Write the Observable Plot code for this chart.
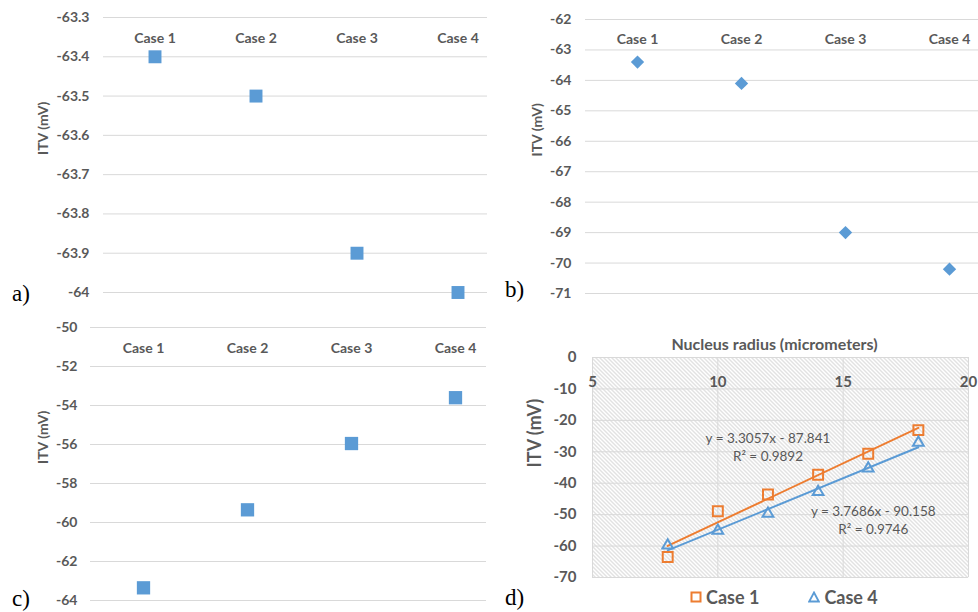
<!DOCTYPE html>
<html><head><meta charset="utf-8">
<script src="https://cdn.jsdelivr.net/npm/d3@7"></script>
<script src="https://cdn.jsdelivr.net/npm/@observablehq/plot@0.6"></script>
<style>
body{margin:0;background:#fff;}
#root{position:relative;width:978px;height:612px;overflow:hidden;font-family:Lato,sans-serif;}
.panel{position:absolute;}
.tag{position:absolute;font-family:"Liberation Serif","Times New Roman",serif;font-size:23px;line-height:1;color:#000;}
#legend{position:absolute;left:690px;top:586px;display:flex;align-items:center;font-family:Lato,sans-serif;font-weight:bold;font-size:18px;color:#595959;}
#legend span{display:inline-flex;align-items:center;}
</style></head><body><div id="root"></div>
<script>
// ---- data ----
const cases = ["Case 1", "Case 2", "Case 3", "Case 4"];
const itvA = [-63.4, -63.5, -63.9, -64.0];
const ticksA = [-63.3, -63.4, -63.5, -63.6, -63.7, -63.8, -63.9, -64];
const itvB = [-63.4, -64.1, -69.0, -70.2];
const ticksB = [-62, -63, -64, -65, -66, -67, -68, -69, -70, -71];
const itvC = [-63.35, -59.35, -55.95, -53.6];
const ticksC = [-50, -52, -54, -56, -58, -60, -62, -64];
const radius = [8, 10, 12, 14, 16, 18];
const itvCase1 = [-63.5, -48.9, -43.6, -37.3, -30.6, -23.1];
const itvCase4 = [-59.8, -55.1, -49.7, -42.8, -35.3, -27.1];
const ticksDx = [5, 10, 15, 20];
const ticksDy = [0, -10, -20, -30, -40, -50, -60, -70];
const fitText = ["y = 3.3057x - 87.841", "R² = 0.9892", "y = 3.7686x - 90.158", "R² = 0.9746"];
const fitX = [12, 12, 16.2, 16.2];
const fitY = [-25.8, -31.6, -48.9, -54.8];
const orange = "#ED7D31", blue = "#5B9BD5", gray = "#595959", grid = "#d9d9d9";

const root = document.getElementById("root");
function place(node, left, top) {
  const wrap = document.createElement("div");
  wrap.className = "panel";
  wrap.style.left = left + "px";
  wrap.style.top = top + "px";
  wrap.appendChild(node);
  root.appendChild(wrap);
}

function casePanel(o) {
  const data = cases.map((c, i) => ({c, v: o.values[i]}));
  return Plot.plot({
    width: o.width, height: o.height,
    marginTop: o.mt, marginBottom: o.mb, marginLeft: o.ml, marginRight: o.mr,
    x: {type: "band", domain: cases, range: o.band, padding: 0, axis: null},
    y: {domain: d3.extent(o.ticks), axis: null},
    style: {fontFamily: "Lato, sans-serif", color: gray, background: "transparent", overflow: "visible"},
    marks: [
      Plot.gridY(o.ticks, {stroke: grid, strokeOpacity: 1, strokeWidth: 1}),
      Plot.axisY(o.ticks, {tickSize: 0, tickPadding: o.pad, tickFormat: d => String(d), fontSize: 14, fontWeight: "bold", label: null}),
      Plot.text(cases, {x: d => d, frameAnchor: "top", lineAnchor: "middle", dy: o.cdy, text: d => d, fontSize: 14, fontWeight: "bold", fill: gray}),
      Plot.text(["ITV (mV)"], {frameAnchor: "left", rotate: -90, dx: o.tdx, text: d => d, fontSize: 14, fontWeight: "bold", fill: gray}),
      Plot.dot(data, {x: "c", y: "v", symbol: o.symbol, r: o.r, fill: blue, stroke: "none"})
    ]
  });
}

place(casePanel({values: itvA, ticks: ticksA, width: 500, height: 310, mt: 17, mb: 18, ml: 103, mr: 13,
  band: [102, 509], pad: 14, cdy: 21, tdx: -60, symbol: "square", r: 7.3}), 0, 0);
place(casePanel({values: itvB, ticks: ticksB, width: 478, height: 310, mt: 19, mb: 17, ml: 85, mr: 0,
  band: [85, 501], pad: 14, cdy: 20, tdx: -48, symbol: "diamond2", r: 6}), 500, 0);
place(casePanel({values: itvC, ticks: ticksC, width: 500, height: 302, mt: 17, mb: 12, ml: 90, mr: 14,
  band: [89, 508], pad: 13, cdy: 21, tdx: -47, symbol: "square", r: 7.5}), 0, 310);

// panel d
const d1 = radius.map((x, i) => ({x, y: itvCase1[i]}));
const d4 = radius.map((x, i) => ({x, y: itvCase4[i]}));
const fits = fitText.map((t, i) => ({t, x: fitX[i], y: fitY[i]}));
const pd = Plot.plot({
  width: 478, height: 302, marginTop: 47, marginBottom: 35, marginLeft: 92, marginRight: 10,
  x: {domain: [5, 20], axis: null},
  y: {domain: [-70, 0], axis: null},
  style: {fontFamily: "Lato, sans-serif", color: gray, background: "transparent", overflow: "visible"},
  marks: [
    Plot.frame({fill: "url(#hatchD)", stroke: "none"}),
    Plot.gridX(ticksDx, {stroke: grid, strokeOpacity: 1}),
    Plot.gridY(ticksDy, {stroke: grid, strokeOpacity: 1}),
    Plot.axisY(ticksDy, {tickSize: 0, tickPadding: 16, tickFormat: d => String(d), fontSize: 15, fontWeight: "bold", label: null}),
    Plot.text(ticksDx, {x: d => d, frameAnchor: "top", lineAnchor: "middle", dy: 25, text: d => String(d), fontSize: 15, fontWeight: "bold", fill: gray}),
    Plot.text(["Nucleus radius (micrometers)"], {frameAnchor: "top", lineAnchor: "middle", dy: -13, dx: -6, text: d => d, fontSize: 16, fontWeight: "bold", fill: gray}),
    Plot.text(["ITV (mV)"], {frameAnchor: "left", rotate: -90, dx: -57, text: d => d, fontSize: 18, fontWeight: "bold", fill: gray}),
    Plot.linearRegressionY(d1, {x: "x", y: "y", stroke: orange, strokeWidth: 2, ci: 0}),
    Plot.linearRegressionY(d4, {x: "x", y: "y", stroke: blue, strokeWidth: 2, ci: 0}),
    Plot.dot(d1, {x: "x", y: "y", symbol: "square", r: 5.6, stroke: orange, strokeWidth: 2, fill: "none"}),
    Plot.dot(d4, {x: "x", y: "y", symbol: "triangle", r: 4, stroke: blue, strokeWidth: 2, fill: "none"}),
    Plot.text(fits, {x: "x", y: "y", text: "t", fontSize: 13.5, fill: gray})
  ]
});
const defs = d3.select(pd).insert("defs", ":first-child");
const pat = defs.append("pattern").attr("id", "hatchD").attr("patternUnits", "userSpaceOnUse")
  .attr("width", 4).attr("height", 4);
pat.append("rect").attr("width", 4).attr("height", 4).attr("fill", "#ffffff");
pat.append("path").attr("d", "M-1,-1L5,5M-1,3L1,5M3,-1L5,1").attr("stroke", "#bdbdbd").attr("stroke-width", 0.9);
place(pd, 500, 310);

// legend for d
const legend = document.createElement("div");
legend.id = "legend";
legend.innerHTML =
  `<span><svg width="12" height="12"><rect x="1.5" y="1.5" width="9" height="9" fill="none" stroke="${orange}" stroke-width="2"/></svg><span style="margin-left:4px">Case 1</span></span>` +
  `<span style="margin-left:49px"><svg width="12" height="12"><path d="M6,1.5L10.8,10.5L1.2,10.5Z" fill="none" stroke="${blue}" stroke-width="1.8"/></svg><span style="margin-left:4px">Case 4</span></span>`;
root.appendChild(legend);

// panel tags
[["a)", 12, 282], ["b)", 505, 278], ["c)", 12, 587], ["d)", 505, 586]].forEach(([t, l, tp]) => {
  const el = document.createElement("div");
  el.className = "tag"; el.textContent = t;
  el.style.left = l + "px"; el.style.top = tp + "px";
  root.appendChild(el);
});
</script></body></html>
